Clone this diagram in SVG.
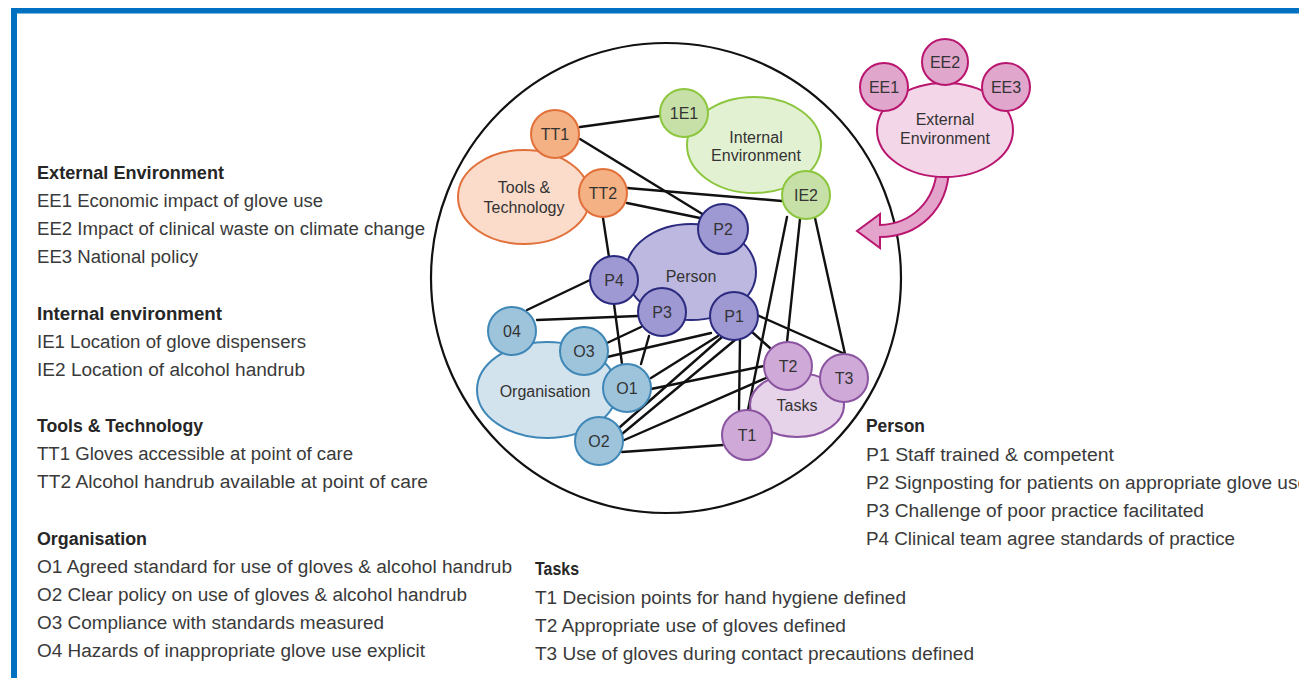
<svg xmlns="http://www.w3.org/2000/svg" width="1299" height="678" viewBox="0 0 1299 678">
<style>
.lst{font-family:"Liberation Sans",Arial,sans-serif;font-size:18px;fill:#3a3a3a}
.hd{font-family:"Liberation Sans",Arial,sans-serif;font-size:18px;font-weight:bold;fill:#262626}
.lbl{font-family:"Liberation Sans",Arial,sans-serif;font-size:16px;fill:#333;text-anchor:middle}
.big{font-family:"Liberation Sans",Arial,sans-serif;font-size:16px;fill:#333;text-anchor:middle}
.con line{stroke:#111;stroke-width:2.4;stroke-linecap:round}
.tt .e{fill:#FBDCCB;stroke:#E2703A;stroke-width:2}
.tt circle{fill:#F4B183;stroke:#E2703A;stroke-width:2}
.ie .e{fill:#E3F1D3;stroke:#8CC63E;stroke-width:2}
.ie circle{fill:#C6E0A8;stroke:#8CC63E;stroke-width:2}
.pe .e{fill:#BDB8E0;stroke:#2B2A7F;stroke-width:2}
.pe circle{fill:#9E98D3;stroke:#2B2A7F;stroke-width:2}
.or .e{fill:#D3E3EE;stroke:#3E87B6;stroke-width:2}
.or circle{fill:#9EC4DC;stroke:#3E87B6;stroke-width:2}
.ta .e{fill:#E6D3EA;stroke:#8B54A0;stroke-width:2}
.ta circle{fill:#CFAAD8;stroke:#8B54A0;stroke-width:2}
.ee .e{fill:#F3D6E8;stroke:#B8166F;stroke-width:2}
.ee circle{fill:#E0A6CC;stroke:#B8166F;stroke-width:2}
</style>
<rect x="0" y="0" width="1299" height="678" fill="#fff"/>
<g id="frame">
<rect x="11" y="8" width="1288" height="5.5" fill="#0070C0"/>
<rect x="11" y="8" width="6" height="670" fill="#0070C0"/>
</g>
<circle id="work-system" cx="666" cy="278" r="235" fill="none" stroke="#111" stroke-width="2.2"/>
<g id="connectors" class="con">
<line x1="580" y1="127" x2="660" y2="116"/>
<line x1="580" y1="139" x2="704" y2="215"/>
<line x1="627" y1="188" x2="782" y2="201"/>
<line x1="627" y1="203" x2="700" y2="218"/>
<line x1="603" y1="218" x2="609" y2="257"/>
<line x1="787" y1="217" x2="748" y2="410"/>
<line x1="800" y1="219" x2="787" y2="342"/>
<line x1="815" y1="218" x2="845" y2="354"/>
<line x1="590" y1="280" x2="527" y2="310"/>
<line x1="537" y1="320" x2="638" y2="316"/>
<line x1="607" y1="343" x2="641" y2="327"/>
<line x1="607" y1="357" x2="711" y2="333"/>
<line x1="614" y1="304" x2="622" y2="364"/>
<line x1="649" y1="336" x2="641" y2="364"/>
<line x1="651" y1="378" x2="718" y2="336"/>
<line x1="651" y1="389" x2="764" y2="366"/>
<line x1="620" y1="427" x2="722" y2="337"/>
<line x1="622" y1="434" x2="735" y2="340"/>
<line x1="622" y1="441" x2="766" y2="378"/>
<line x1="622" y1="452" x2="723" y2="445"/>
<line x1="740" y1="340" x2="739" y2="410"/>
<line x1="752" y1="332" x2="770" y2="348"/>
<line x1="757" y1="315" x2="845" y2="354"/>
</g>
<g id="tools-technology" class="tt">
<ellipse class="e" cx="524" cy="197" rx="66" ry="47"/>
<text class="big" x="524" y="193">Tools &amp;</text>
<text class="big" x="524" y="213">Technology</text>
<circle cx="555" cy="134" r="24"/><text class="lbl" x="555" y="140">TT1</text>
<circle cx="603" cy="193" r="24"/><text class="lbl" x="603" y="199">TT2</text>
</g>
<g id="internal-environment" class="ie">
<ellipse class="e" cx="754" cy="145" rx="67" ry="48"/>
<text class="big" x="756" y="143">Internal</text>
<text class="big" x="756" y="161">Environment</text>
<circle cx="684" cy="113" r="24"/><text class="lbl" x="684" y="119">1E1</text>
<circle cx="806" cy="195" r="24"/><text class="lbl" x="806" y="201">IE2</text>
</g>
<g id="person" class="pe">
<ellipse class="e" cx="691" cy="272" rx="65" ry="48"/>
<text class="big" x="691" y="282">Person</text>
<circle cx="723" cy="229" r="25"/><text class="lbl" x="723" y="235">P2</text>
<circle cx="614" cy="280" r="24"/><text class="lbl" x="614" y="286">P4</text>
<circle cx="662" cy="312" r="24"/><text class="lbl" x="662" y="318">P3</text>
<circle cx="734" cy="316" r="24"/><text class="lbl" x="734" y="322">P1</text>
</g>
<g id="organisation" class="or">
<ellipse class="e" cx="547" cy="390" rx="70" ry="48"/>
<text class="big" x="545" y="397">Organisation</text>
<circle cx="512" cy="331" r="24"/><text class="lbl" x="512" y="337">04</text>
<circle cx="584" cy="351" r="24"/><text class="lbl" x="584" y="357">O3</text>
<circle cx="627" cy="388" r="24"/><text class="lbl" x="627" y="394">O1</text>
<circle cx="599" cy="441" r="24"/><text class="lbl" x="599" y="447">O2</text>
</g>
<g id="tasks" class="ta">
<ellipse class="e" cx="797" cy="405" rx="47" ry="32"/>
<text class="big" x="797" y="411">Tasks</text>
<circle cx="788" cy="366" r="24"/><text class="lbl" x="788" y="372">T2</text>
<circle cx="844" cy="378" r="24"/><text class="lbl" x="844" y="384">T3</text>
<circle cx="747" cy="435" r="25"/><text class="lbl" x="747" y="441">T1</text>
</g>
<g id="external-environment" class="ee">
<path d="M 937 168 L 949 168 C 948 210 918 237 880 237 L 880 248 L 857 231 L 880 214 L 880 225 C 911 224 935 202 937 168 Z" fill="#E3A3CB" stroke="#B8166F" stroke-width="2" stroke-linejoin="miter"/>
<ellipse class="e" cx="945" cy="130" rx="68" ry="47"/>
<text class="big" x="945" y="125">External</text>
<text class="big" x="945" y="144">Environment</text>
<circle cx="884" cy="87" r="24"/><text class="lbl" x="884" y="93">EE1</text>
<circle cx="945" cy="62" r="23"/><text class="lbl" x="945" y="68">EE2</text>
<circle cx="1006" cy="87" r="24"/><text class="lbl" x="1006" y="93">EE3</text>
</g>
<g id="legend-left">
<text class="hd" x="37" y="179" textLength="187" lengthAdjust="spacingAndGlyphs">External Environment</text>
<text class="lst" x="37" y="207" textLength="286" lengthAdjust="spacingAndGlyphs">EE1 Economic impact of glove use</text>
<text class="lst" x="37" y="235" textLength="388" lengthAdjust="spacingAndGlyphs">EE2 Impact of clinical waste on climate change</text>
<text class="lst" x="37" y="263" textLength="161" lengthAdjust="spacingAndGlyphs">EE3 National policy</text>
<text class="hd" x="37" y="320" textLength="185" lengthAdjust="spacingAndGlyphs">Internal environment</text>
<text class="lst" x="37" y="348" textLength="269" lengthAdjust="spacingAndGlyphs">IE1 Location of glove dispensers</text>
<text class="lst" x="37" y="376" textLength="268" lengthAdjust="spacingAndGlyphs">IE2 Location of alcohol handrub</text>
<text class="hd" x="37" y="432" textLength="166" lengthAdjust="spacingAndGlyphs">Tools &amp; Technology</text>
<text class="lst" x="37" y="460" textLength="316" lengthAdjust="spacingAndGlyphs">TT1 Gloves accessible at point of care</text>
<text class="lst" x="37" y="488" textLength="391" lengthAdjust="spacingAndGlyphs">TT2 Alcohol handrub available at point of care</text>
<text class="hd" x="37" y="545" textLength="110" lengthAdjust="spacingAndGlyphs">Organisation</text>
<text class="lst" x="37" y="573" textLength="475" lengthAdjust="spacingAndGlyphs">O1 Agreed standard for use of gloves &amp; alcohol handrub</text>
<text class="lst" x="37" y="601" textLength="430" lengthAdjust="spacingAndGlyphs">O2 Clear policy on use of gloves &amp; alcohol handrub</text>
<text class="lst" x="37" y="629" textLength="347" lengthAdjust="spacingAndGlyphs">O3 Compliance with standards measured</text>
<text class="lst" x="37" y="657" textLength="388" lengthAdjust="spacingAndGlyphs">O4 Hazards of inappropriate glove use explicit</text>
</g>
<g id="legend-tasks">
<text class="hd" x="535" y="575" textLength="44" lengthAdjust="spacingAndGlyphs">Tasks</text>
<text class="lst" x="535" y="604" textLength="371" lengthAdjust="spacingAndGlyphs">T1 Decision points for hand hygiene defined</text>
<text class="lst" x="535" y="632" textLength="311" lengthAdjust="spacingAndGlyphs">T2 Appropriate use of gloves defined</text>
<text class="lst" x="535" y="660" textLength="439" lengthAdjust="spacingAndGlyphs">T3 Use of gloves during contact precautions defined</text>
</g>
<g id="legend-person">
<text class="hd" x="866" y="432" textLength="59" lengthAdjust="spacingAndGlyphs">Person</text>
<text class="lst" x="866" y="461" textLength="248" lengthAdjust="spacingAndGlyphs">P1 Staff trained &amp; competent</text>
<text class="lst" x="866" y="489" textLength="442" lengthAdjust="spacingAndGlyphs">P2 Signposting for patients on appropriate glove use</text>
<text class="lst" x="866" y="517" textLength="338" lengthAdjust="spacingAndGlyphs">P3 Challenge of poor practice facilitated</text>
<text class="lst" x="866" y="545" textLength="369" lengthAdjust="spacingAndGlyphs">P4 Clinical team agree standards of practice</text>
</g>
</svg>
